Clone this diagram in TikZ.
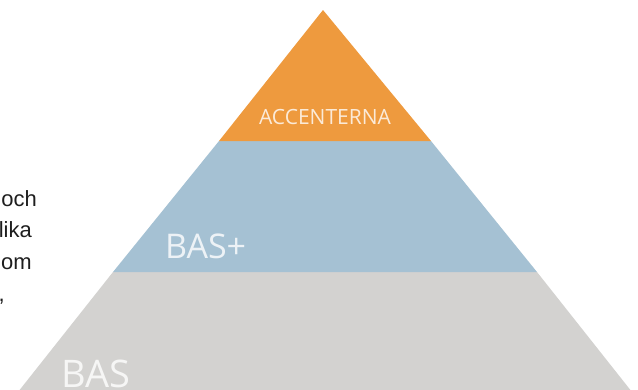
\documentclass[tikz,border=0pt]{standalone}
\usepackage{fontspec}
\setmainfont{Liberation Sans}
\newfontfamily\tierfont{Open Sans}
\definecolor{tierorange}{RGB}{238,154,62}
\definecolor{tierblue}{RGB}{165,193,211}
\definecolor{tiergrey}{RGB}{211,210,208}
\definecolor{bodytext}{RGB}{30,30,30}
\begin{document}
\begin{tikzpicture}[x=1pt,y=-1pt,
  tierlabel/.style={inner sep=0pt,text=white,text opacity=0.8,font=\tierfont},
  bodyline/.style={inner sep=0pt,anchor=base east,text=bodytext,font=\fontsize{22}{22}\selectfont}]
\useasboundingbox (0,0) rectangle (638,389);
\clip (0,0) rectangle (638,389);
% pyramid tiers, bottom to top
\fill[tiergrey] (113,272) -- (537,272) -- (632,392) -- (18,392) -- cycle;
\fill[tierblue] (219,141) -- (431,141) -- (537,272) -- (113,272) -- cycle;
\fill[tierorange] (323,10) -- (431,141) -- (219,141) -- cycle;
% tier labels
\node[tierlabel,anchor=base,font=\tierfont\fontsize{21}{21}\selectfont] (top) at (325,124) {ACCENTERNA};
\node[tierlabel,anchor=base west,font=\tierfont\fontsize{34}{34}\selectfont] (mid) at (165,258) {BAS+};
\node[tierlabel,anchor=base west,font=\tierfont\fontsize{38}{38}\selectfont] (base) at (61,387) {BAS};
% body text beside the pyramid
\node[bodyline] (l1) at (37,206) {och};
\node[bodyline] (l2) at (32,237) {lika};
\node[bodyline] (l3) at (32,269) {om};
\node[bodyline] (l4) at (5,301) {,};
\end{tikzpicture}
\end{document}
